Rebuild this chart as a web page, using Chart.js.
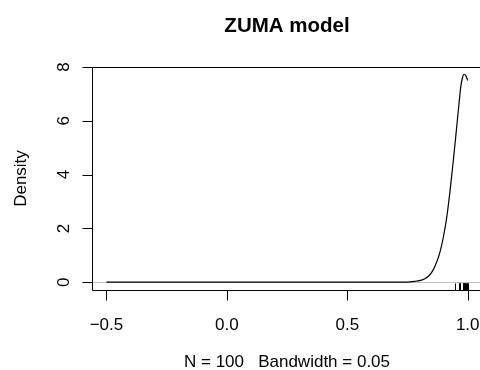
<!DOCTYPE html>
<html>
<head>
<meta charset="utf-8">
<script src="https://cdn.jsdelivr.net/npm/chart.js@4"></script>
<style>
  html, body { margin: 0; padding: 0; background: #fff; overflow: hidden; }
  canvas { display: block; }
</style>
</head>
<body>
<canvas id="c" width="480" height="370"></canvas>
<script>
// Density curve
const densityX = [-0.5, -0.25, 0.0, 0.25, 0.5, 0.65, 0.72, 0.76, 0.78, 0.80, 0.82, 0.84, 0.855, 0.87, 0.885, 0.899, 0.913, 0.926, 0.940, 0.954, 0.964, 0.971, 0.978, 0.985, 0.992, 1.0];
const densityY = [0, 0, 0, 0, 0, 0, 0.003, 0.012, 0.03, 0.058, 0.12, 0.25, 0.43, 0.72, 1.13, 1.68, 2.42, 3.35, 4.50, 5.75, 6.65, 7.25, 7.60, 7.73, 7.68, 7.50];
// Rug (observations)
const rugValues = [0.9485, 0.962, 0.9635, 0.965, 0.967, 0.9685, 0.970, 0.9785, 0.980, 0.9815, 0.983, 0.9845, 0.986, 0.9875, 0.989, 0.9905, 0.992, 0.9935, 0.995, 0.9965, 0.998, 0.9995, 1.0];
// Axis ticks
const xTicks = [-0.5, 0.0, 0.5, 1.0];
const xTickLabels = ["\u22120.5", "0.0", "0.5", "1.0"];
const yTicks = [0, 2, 4, 6, 8];
const yTickLabels = ["0", "2", "4", "6", "8"];
const titleText = "ZUMA model";
const xLabel = "N = 100   Bandwidth = 0.05";
const yLabel = "Density";

const FONT = '"Liberation Sans", Arial, Helvetica, sans-serif';

const rPlot = {
  id: 'rPlot',
  beforeDatasetsDraw(chart) {
    const {ctx, chartArea: a, scales: {y}} = chart;
    ctx.save();
    ctx.strokeStyle = '#bebebe';
    ctx.lineWidth = 1;
    const y0 = Math.round(y.getPixelForValue(0)) + 0.5;
    ctx.beginPath();
    ctx.moveTo(a.left, y0);
    ctx.lineTo(a.right, y0);
    ctx.stroke();
    ctx.restore();
  },
  afterDatasetsDraw(chart) {
    const {ctx, chartArea: a, scales: {x, y}} = chart;
    ctx.save();
    ctx.strokeStyle = '#000';
    ctx.fillStyle = '#000';
    ctx.lineWidth = 1;
    const L = Math.round(a.left) + 0.5;
    const T = Math.round(a.top) + 0.5;
    const B = Math.round(a.bottom) + 0.5;
    // box (right side lies beyond the canvas)
    ctx.beginPath();
    ctx.moveTo(a.right + 5, T);
    ctx.lineTo(L, T);
    ctx.lineTo(L, B);
    ctx.lineTo(a.right + 5, B);
    ctx.stroke();
    // rug
    const rugLen = 7;
    ctx.beginPath();
    rugValues.forEach(v => {
      const px = Math.round(x.getPixelForValue(v)) + 0.5;
      ctx.moveTo(px, B);
      ctx.lineTo(px, B - rugLen);
    });
    ctx.stroke();
    // x ticks
    const tl = 10;
    ctx.beginPath();
    xTicks.forEach(v => {
      const px = Math.round(x.getPixelForValue(v)) + 0.5;
      ctx.moveTo(px, B);
      ctx.lineTo(px, B + tl);
    });
    ctx.stroke();
    // y ticks
    ctx.beginPath();
    yTicks.forEach(v => {
      const py = Math.round(y.getPixelForValue(v)) + 0.5;
      ctx.moveTo(L, py);
      ctx.lineTo(L - tl, py);
    });
    ctx.stroke();
    // tick labels
    ctx.font = '17px ' + FONT;
    ctx.textAlign = 'center';
    ctx.textBaseline = 'alphabetic';
    xTicks.forEach((v, i) => {
      ctx.fillText(xTickLabels[i], x.getPixelForValue(v), 330);
    });
    yTicks.forEach((v, i) => {
      ctx.save();
      ctx.translate(68.5, y.getPixelForValue(v));
      ctx.rotate(-Math.PI / 2);
      ctx.fillText(yTickLabels[i], 0, 0);
      ctx.restore();
    });
    // axis titles
    const cx = (a.left + 482) / 2;
    ctx.fillText(xLabel, cx, 367);
    ctx.save();
    ctx.translate(25.5, (a.top + a.bottom) / 2);
    ctx.rotate(-Math.PI / 2);
    ctx.fillText(yLabel, 0, 0);
    ctx.restore();
    // main title
    ctx.font = 'bold 20.5px ' + FONT;
    ctx.fillText(titleText, cx, 31.5);
    ctx.restore();
  }
};

new Chart(document.getElementById('c'), {
  type: 'line',
  data: {
    datasets: [{
      data: densityX.map((v, i) => ({x: v, y: densityY[i]})),
      borderColor: '#000',
      borderWidth: 1.2,
      pointRadius: 0,
      fill: false,
      cubicInterpolationMode: 'monotone'
    }]
  },
  options: {
    responsive: false,
    animation: false,
    devicePixelRatio: 1,
    layout: { padding: { left: 92, top: 67, right: 0, bottom: 80 } },
    plugins: { legend: { display: false }, title: { display: false }, tooltip: { enabled: false } },
    scales: {
      x: { type: 'linear', min: -0.56, max: 1.051, display: false },
      y: { type: 'linear', min: -0.29, max: 8.0, display: false }
    }
  },
  plugins: [rPlot]
});
</script>
</body>
</html>
